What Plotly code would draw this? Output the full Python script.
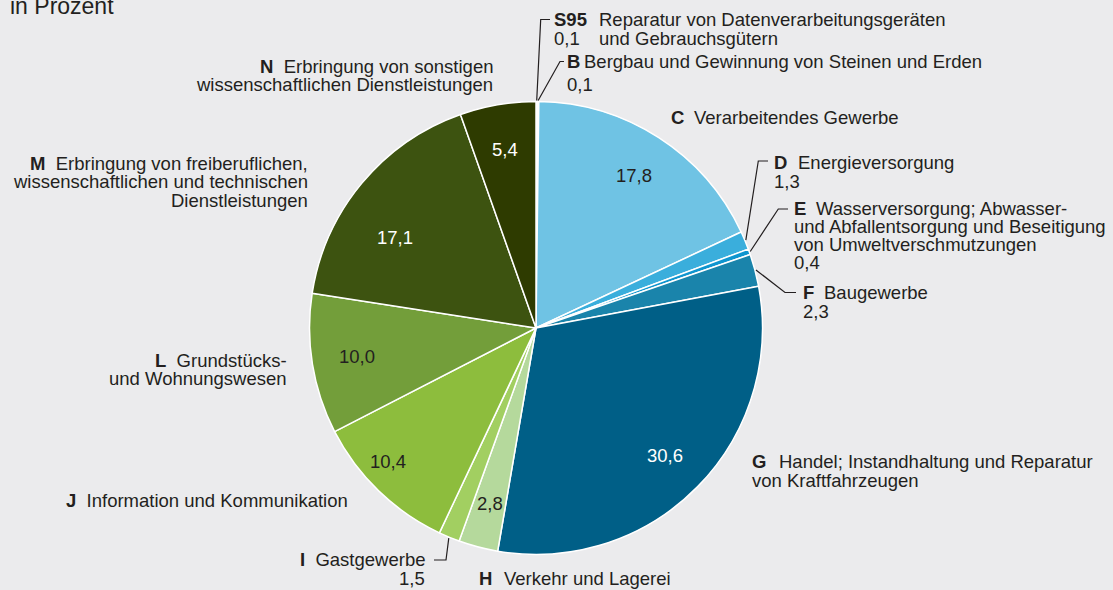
import math
import plotly.graph_objects as go

# ---------------- data ----------------
codes = ["S95", "B", "C", "D", "E", "F", "G", "H", "I", "J", "L", "M", "N"]
values = [0.1, 0.1, 17.8, 1.3, 0.4, 2.3, 30.6, 2.8, 1.5, 10.4, 10.0, 17.1, 5.4]
names = [
    "Reparatur von Datenverarbeitungsgeräten\nund Gebrauchsgütern",
    "Bergbau und Gewinnung von Steinen und Erden",
    "Verarbeitendes Gewerbe",
    "Energieversorgung",
    "Wasserversorgung; Abwasser-\nund Abfallentsorgung und Beseitigung\nvon Umweltverschmutzungen",
    "Baugewerbe",
    "Handel; Instandhaltung und Reparatur\nvon Kraftfahrzeugen",
    "Verkehr und Lagerei",
    "Gastgewerbe",
    "Information und Kommunikation",
    "Grundstücks-\nund Wohnungswesen",
    "Erbringung von freiberuflichen,\nwissenschaftlichen und technischen\nDienstleistungen",
    "Erbringung von sonstigen\nwissenschaftlichen Dienstleistungen",
]
unit_label = "in Prozent"

# ---------------- style ----------------
colors = ["#d4d4d6", "#bdbdc0", "#6fc3e4", "#3aaedc", "#0f95cf", "#1a84ab",
          "#005f87", "#b5d99c", "#a2cf61", "#8dbd3d", "#739e3a", "#3d5310", "#2e3b00"]
value_font_colors = {"G": "white", "M": "white", "N": "white"}
TXT = "#231f20"
BG = "#ebebed"
FONT = "Liberation Sans, Arial, Helvetica, sans-serif"
FS = 18.5

W, H = 1113, 590
CX, CY, R = 536, 328, 226.5


def px(x):
    return x / W


def py(y):
    return 1 - y / H


def fmt(v):
    return f"{v:.1f}".replace(".", ",")


total = sum(values)
cum = 0
mid_angle = {}
for c, v in zip(codes, values):
    mid_angle[c] = (cum + v / 2) / total * 360
    cum += v


def edge_point(code, rr):
    a = math.radians(mid_angle[code])
    return CX + rr * math.sin(a), CY - rr * math.cos(a)


fig = go.Figure(go.Pie(
    labels=codes, values=values, sort=False, direction="clockwise", rotation=0,
    marker=dict(colors=colors, line=dict(color="white", width=1.5)),
    textinfo="none", hoverinfo="skip", showlegend=False,
    domain=dict(x=[px(CX - R), px(CX + R)], y=[py(CY + R), py(CY - R)]),
))

annotations = []


def add_text(text, x, baseline, anchor="left", size=FS, color=TXT):
    annotations.append(dict(
        text=text, x=px(x), y=py(baseline - 0.3465 * size), xref="paper", yref="paper",
        xanchor=anchor, yanchor="middle", showarrow=False,
        font=dict(family=FONT, size=size, color=color),
    ))


# unit label
add_text(unit_label, 8, 14, size=23)

# values inside the pie
nudge = {"M": (-7, 0.74), "J": (4, 0.88)}
for c, v in zip(codes, values):
    if v >= 2.5:
        da, rf = nudge.get(c, (0, 0.8))
        a = math.radians(mid_angle[c] + da)
        x = CX + rf * R * math.sin(a)
        y = CY - rf * R * math.cos(a)
        annotations.append(dict(
            text=fmt(v), x=px(x), y=py(y), xref="paper", yref="paper",
            xanchor="center", yanchor="middle", showarrow=False,
            font=dict(family=FONT, size=FS, color=value_font_colors.get(c, TXT)),
        ))

# label layout: style, code x, text x, baselines of lines, value baseline
layout_spec = {
    "S95": ("cols", 552, 597, [26, 45], 45),
    "B": ("lead", 565, 582, [67.5], 91),
    "C": ("lead", 669, 692, [123.5], None),
    "D": ("lead", 771.5, 796, [169], 188),
    "E": ("lead", 791.5, 813.5, [215, 232.5, 250.5], 269),
    "F": ("lead", 800.5, 821.5, [299], 318),
    "G": ("lead", 750, 776.5, [468, 486.5], None),
    "H": ("lead", 477, 501.5, [585], None),
    "I": ("right", 427, None, [566], 585),
    "J": ("right", 350, None, [506.5], None),
    "L": ("right", 288.5, None, [366.5, 385], None),
    "M": ("right", 310, None, [170, 188.3, 206.7], None),
    "N": ("right", 495, None, [73.3, 90.7], None),
}

for c, v, n in zip(codes, values, names):
    style, xc, xt, bls, vbl = layout_spec[c]
    lines = n.split("\n")
    if style == "cols":
        add_text(f"<b>{c}</b>", xc, bls[0])
        for ln, bl in zip(lines, bls):
            add_text(ln, xt, bl)
        add_text(fmt(v), xc, vbl)
    elif style == "lead":
        add_text(f"<b>{c}</b>", xc, bls[0])
        add_text(lines[0], xt, bls[0])
        for ln, bl in zip(lines[1:], bls[1:]):
            add_text(ln, xc, bl)
        if vbl is not None:
            add_text(fmt(v), xc, vbl)
    else:
        add_text(f"<b>{c}</b>\u00a0\u00a0{lines[0]}", xc, bls[0], anchor="right")
        for ln, bl in zip(lines[1:], bls[1:]):
            add_text(ln, xc, bl, anchor="right")
        if vbl is not None:
            add_text(fmt(v), xc, vbl, anchor="right")

# leader lines: elbow and end points next to the labels
leaders = {
    "S95": [(540.7, 19.5), (550, 19.5)],
    "B": [(560, 61.5), (564, 61.5)],
    "D": [(758.3, 161), (768, 161)],
    "E": [(778.3, 209), (788, 209)],
    "F": [(785, 292.5), (796, 292.5)],
    "I": [(446, 560), (434, 560)],
}
shapes = []
for c, pts in leaders.items():
    x0, y0 = edge_point(c, R + 1)
    path = f"M{px(x0)},{py(y0)}" + "".join(f" L{px(x)},{py(y)}" for x, y in pts)
    shapes.append(dict(type="path", path=path, xref="paper", yref="paper",
                       line=dict(color=TXT, width=1.2)))

fig.update_layout(
    width=W, height=H, margin=dict(l=0, r=0, t=0, b=0),
    paper_bgcolor=BG, plot_bgcolor=BG,
    annotations=annotations, shapes=shapes,
    font=dict(family=FONT, color=TXT),
)

fig.write_html(
    "out.html",
    config={"displayModeBar": False},
    post_script="document.body.style.margin='0';document.body.style.overflow='hidden';"
                "document.body.style.background='" + BG + "';",
)
